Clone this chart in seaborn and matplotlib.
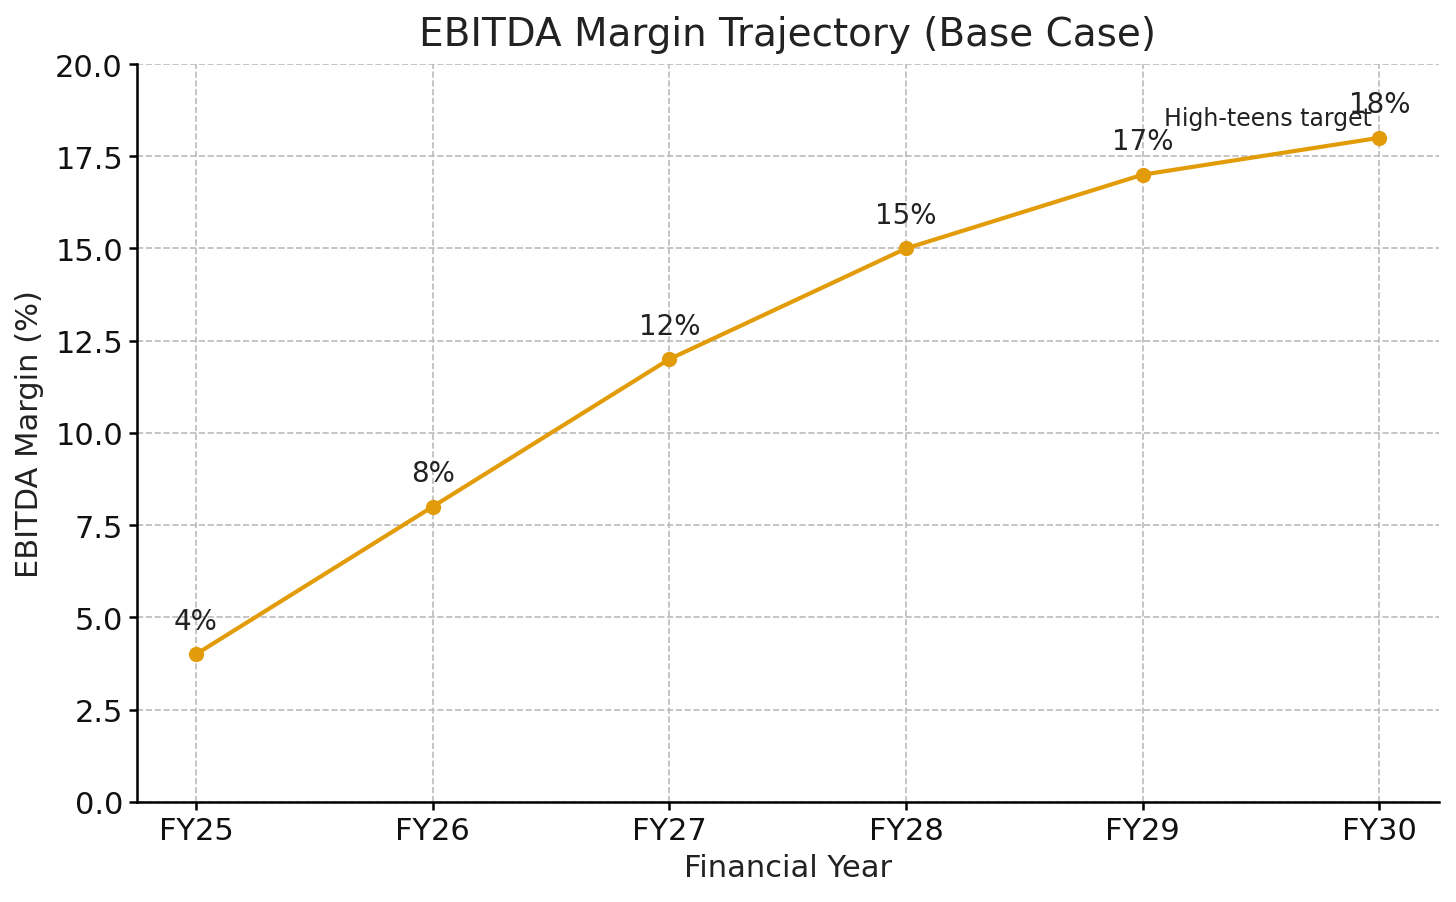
import pandas as pd
import seaborn as sns
import matplotlib.pyplot as plt

# Données
annees = ['FY25', 'FY26', 'FY27', 'FY28', 'FY29', 'FY30']
marges = [4, 8, 12, 15, 17, 18]
etiquettes = ['4%', '8%', '12%', '15%', '17%', '18%']

donnees = pd.DataFrame({'Annee': annees, 'Marge': marges})

sns.set_style('ticks')
plt.rcParams['font.family'] = ['DejaVu Sans']

fig, ax = plt.subplots(figsize=(7.28, 4.515), dpi=200)
fig.subplots_adjust(left=0.094, right=0.988, top=0.928, bottom=0.111)

sns.lineplot(data=donnees, x='Annee', y='Marge', marker='o', color='#E29C0A',
             linewidth=1.5, markersize=5.5, markeredgewidth=0, ax=ax)

# Étiquettes des points
for i, (val, txt) in enumerate(zip(marges, etiquettes)):
    ax.annotate(txt, (i, val), textcoords='offset points', xytext=(0, 7),
                ha='center', va='bottom', fontsize=10, color='#222222')

ax.text(4.53, 18.55, 'High-teens target', ha='center', va='center',
        fontsize=8.5, color='#222222')

ax.set_ylim(0, 20)
ax.set_xlim(-0.25, 5.25)
ax.grid(True, linestyle='--', color='#bbbbbb', linewidth=0.6)
sns.despine(ax=ax)
for s in ['left', 'bottom']:
    ax.spines[s].set_linewidth(0.9)
    ax.spines[s].set_color('black')
ax.tick_params(labelsize=11, length=3, width=0.9, pad=2, color='black', labelcolor='#111111')

ax.set_title('EBITDA Margin Trajectory (Base Case)', fontsize=14, color='#222222', pad=7)
ax.set_xlabel('Financial Year', fontsize=11, color='#222222', labelpad=3)
ax.set_ylabel('EBITDA Margin (%)', fontsize=11, color='#222222', labelpad=4)

plt.savefig('out.png', dpi=200)
